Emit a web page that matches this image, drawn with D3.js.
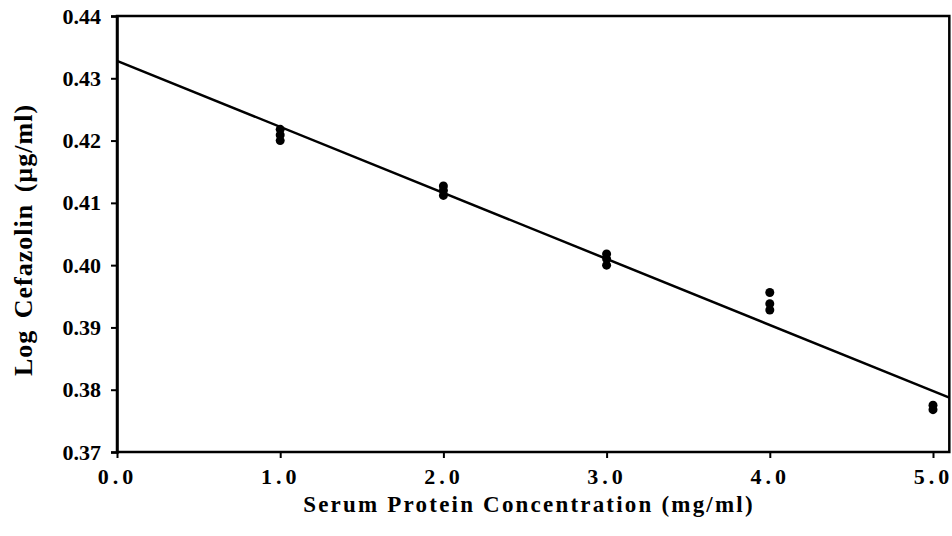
<!DOCTYPE html>
<html><head><meta charset="utf-8">
<script src="https://cdn.jsdelivr.net/npm/d3@7"></script>
<style>body{margin:0;background:#fff}svg{display:block}text{font-family:"Liberation Serif","Times New Roman",serif;font-weight:bold;fill:#000}</style>
</head><body>
<script>
const xValues = [1,1,1,2,2,2,3,3,3,4,4,4,5,5];
const yValues = [0.4218,0.4209,0.4200,0.4127,0.4120,0.4112,0.4018,0.4010,0.4000,0.3956,0.3938,0.3928,0.3775,0.3768];
const xTicks = [0,1,2,3,4,5];
const yTicks = [0.37,0.38,0.39,0.40,0.41,0.42,0.43,0.44];
const fitIntercept = 0.4328;
const fitSlope = -0.0106;
const xDomain = [0,5.1];
const yDomain = [0.37,0.44];

(function(){
const W=952,H=536;
const svg=d3.select("body").append("svg").attr("width",W).attr("height",H);
const mL=117,mR=949,mT=16,mB=452;
const x=d3.scaleLinear().domain([0,5]).range([mL,933]);
const y=d3.scaleLinear().domain(yDomain).range([mB,mT]);

svg.append("rect").attr("x",mL).attr("y",mT).attr("width",x(xDomain[1])-mL).attr("height",mB-mT)
  .attr("fill","none").attr("stroke","#000").attr("stroke-width",2.5);

const ya=svg.append("g").attr("transform",`translate(${mL},0)`)
  .call(d3.axisLeft(y).tickValues(yTicks).tickFormat(d3.format(".2f")).tickSize(6).tickPadding(10));
ya.select(".domain").attr("stroke-width",2.5);
ya.selectAll(".tick line").attr("stroke-width",2);
ya.selectAll("text").style("font-size","22px");

const xa=svg.append("g").attr("transform",`translate(0,${mB})`)
  .call(d3.axisBottom(x).tickValues(xTicks).tickFormat(d3.format(".1f")).tickSize(6).tickPadding(10));
xa.select(".domain").remove();
xa.selectAll(".tick line").attr("stroke-width",2);
xa.selectAll("text").style("font-size","22px").style("letter-spacing","4px");

svg.append("line")
  .attr("x1",x(xDomain[0])).attr("y1",y(fitIntercept+fitSlope*xDomain[0]))
  .attr("x2",x(xDomain[1])).attr("y2",y(fitIntercept+fitSlope*xDomain[1]))
  .attr("stroke","#000").attr("stroke-width",2.5);

svg.append("g").selectAll("circle").data(xValues.map((v,i)=>[v,yValues[i]])).join("circle")
  .attr("cx",d=>x(d[0])).attr("cy",d=>y(d[1])).attr("r",4.5).attr("fill","#000");

svg.append("text").attr("x",529).attr("y",512).attr("text-anchor","middle")
  .style("font-size","23px").style("letter-spacing","2.2px").text("Serum Protein Concentration (mg/ml)");
svg.append("text").attr("transform",`translate(32,240) rotate(-90)`).attr("text-anchor","middle")
  .style("font-size","26px").style("letter-spacing","1px").style("word-spacing","4px").text("Log  Cefazolin  (µg/ml)");
})();
</script>
</body></html>
